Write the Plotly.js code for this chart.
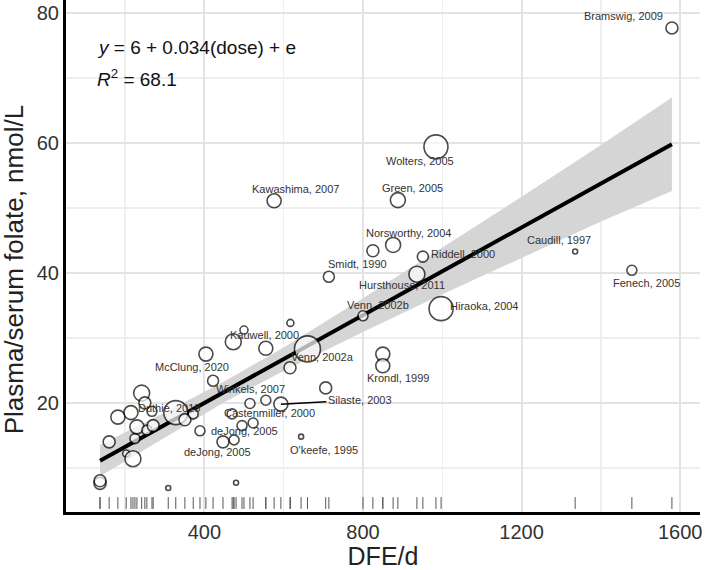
<!DOCTYPE html>
<html>
<head>
<meta charset="utf-8">
<script src="https://cdn.plot.ly/plotly-3.0.1.min.js"></script>
<style>html,body{margin:0;padding:0;background:#fff;}#chart{width:709px;height:570px;}</style>
</head>
<body>
<div id="chart"></div>
<script>
// ---- data ----
var dose = [137,137,160,182,203,215,220,225,230,242,250,255,268,271,309,328,351,372,389,404,422,447,470,473,475,480,495,500,515,523,555,555,576,593,616,617,644,660,706,714,800,825,850,850,876,888,936,951,984,997,1335,1478,1579];
var folate = [7.6,8.0,14.0,17.8,12.2,18.5,11.4,14.5,16.3,21.5,20.0,15.8,18.7,16.5,6.9,18.5,17.4,18.3,15.7,27.5,23.4,14.0,18.3,29.4,14.3,7.7,16.5,31.2,19.9,16.9,28.4,20.4,51.1,19.8,25.4,32.3,14.8,28.3,22.3,39.4,33.4,43.4,27.5,25.7,44.3,51.2,39.8,42.5,59.4,34.5,43.3,40.4,77.7];
var weight = [6,6,6,7,3.5,7,8,5,7,8,6,5,5,6,2.5,12,6,5,5,7,5.5,6,5,8,5,2.5,5,4,5,5,7,5,7,7,6,3.5,2.5,13,6,5.5,5,6,7,7,7.5,7.5,8,5.5,12,12,2.5,5,6];
var study = ["","","","","","","","","","","","","","","","Duthie, 2018","","","","McClung, 2020","Winkels, 2007","deJong, 2005","","Kauwell, 2000","","","deJong, 2005","","Castenmiller, 2000","","","","Kawashima, 2007","Silaste, 2003","","","O'keefe, 1995","Venn, 2002a","","Smidt, 1990","Venn, 2002b","","","Krondl, 1999","Norsworthy, 2004","Green, 2005","Hursthouse, 2011","Riddell, 2000","Wolters, 2005","Hiraoka, 2004","Caudill, 1997","Fenech, 2005","Bramswig, 2009"];
// fitted line and confidence band
var fitDose = [137,1579];
var fitFolate = [11.1,59.8];
var bandDose = [137,300,450,600,800,1000,1200,1400,1579];
var bandUpper = [13.5,18.5,23.3,28.5,36.1,43.9,51.7,59.7,67.0];
var bandLower = [8.7,14.7,20.1,24.9,30.9,36.7,42.3,47.9,52.6];
var xTicks = [400,800,1200,1600];
var yTicks = [20,40,60,80];
var xTitle = "DFE/d";
var yTitle = "Plasma/serum folate, nmol/L";
var eqText = "<i>y</i> = 6 + 0.034(dose) + e";
var r2Text = "<i>R</i><sup>2</sup> = 68.1";

// ---- layout-only placement of labels (pixel shifts: right, up) ----
var labelShift = {
  15:[-7,5], 19:[-14,-13], 20:[37,-8], 21:[-5,-10], 23:[31,7], 26:[2,-5],
  28:[20,-10], 32:[21,12], 36:[23,-13], 37:[15,-8], 39:[29,13], 40:[15,11],
  43:[15,-12], 44:[15,12], 45:[15,12], 46:[-15,-11], 47:[40,3], 48:[-16,-14],
  49:[43,3], 50:[-16,11], 51:[15,-13], 52:[-48,12]
};
var arrowLabels = {33:[79,-4]};

var FONT = "Liberation Sans, Arial, Helvetica, sans-serif";

var traces = [];
traces.push({
  x: bandDose.concat(bandDose.slice().reverse()),
  y: bandUpper.concat(bandLower.slice().reverse()),
  type:'scatter', mode:'lines', fill:'toself', fillcolor:'#d5d5d5',
  line:{width:0, color:'rgba(0,0,0,0)'}, hoverinfo:'skip'
});
traces.push({
  x: fitDose, y: fitFolate, type:'scatter', mode:'lines',
  line:{color:'#000', width:4}, hoverinfo:'skip'
});
traces.push({
  x: dose, y: folate, type:'scatter', mode:'markers',
  marker:{size: weight.map(function(w){return 2*w;}), color:'#fff', line:{color:'#000', width:1.6}},
  hoverinfo:'skip'
});

var annotations = [];
for (var i=0;i<study.length;i++){
  if(!study[i]) continue;
  if(arrowLabels[i]){
    annotations.push({x:dose[i], y:folate[i], xref:'x', yref:'y', text:study[i], showarrow:true,
      arrowhead:0, arrowwidth:1.5, arrowcolor:'#000', standoff:0,
      ax:arrowLabels[i][0], ay:arrowLabels[i][1],
      font:{family:FONT, size:11, color:'#333'}});
  } else {
    var s = labelShift[i] || [0,0];
    annotations.push({x:dose[i], y:folate[i], xref:'x', yref:'y', text:study[i], showarrow:false,
      xshift:s[0], yshift:s[1], xanchor:'center', yanchor:'middle',
      font:{family:FONT, size:11, color:'#333'}});
  }
}
annotations.push({xref:'paper', yref:'paper', x:0.046, y:0.908, xanchor:'left', yanchor:'middle',
  text:eqText, showarrow:false, font:{family:FONT, size:19, color:'#111'}});
annotations.push({xref:'paper', yref:'paper', x:0.046, y:0.848, xanchor:'left', yanchor:'middle',
  text:r2Text, showarrow:false, font:{family:FONT, size:19, color:'#111'}});
// y axis title placed as rotated text (centred like the reference)
annotations.push({xref:'paper', yref:'paper', x:-0.082, y:0.472, xanchor:'center', yanchor:'middle',
  textangle:-90, text:yTitle, showarrow:false, font:{family:FONT, size:26, color:'#222'}});

var shapes = dose.map(function(d){
  return {type:'line', xref:'x', yref:'paper', x0:d, x1:d, y0:0.006, y1:0.029,
    line:{color:'#555', width:1}, layer:'above'};
});

var layout = {
  width:709, height:570,
  margin:{l:66, r:9, t:0, b:58},
  paper_bgcolor:'#fff', plot_bgcolor:'#fff',
  showlegend:false,
  font:{family:FONT, color:'#222'},
  xaxis:{
    range:[51.2,1649.8], tickvals:xTicks, ticktext:xTicks.map(String),
    showgrid:true, gridcolor:'#e3e3e3', gridwidth:2,
    minor:{dtick:200, tick0:0, showgrid:true, gridcolor:'#eeeeee', gridwidth:1.5},
    zeroline:false, showline:true, linecolor:'#000', linewidth:3, ticks:'',
    tickfont:{family:FONT, size:20, color:'#333'},
    title:{text:xTitle, font:{family:FONT, size:25, color:'#222'}, standoff:5}
  },
  yaxis:{
    range:[3.2,82], tickvals:yTicks, ticktext:yTicks.map(String),
    showgrid:true, gridcolor:'#e3e3e3', gridwidth:2,
    minor:{dtick:10, tick0:0, showgrid:true, gridcolor:'#eeeeee', gridwidth:1.5},
    zeroline:false, showline:true, linecolor:'#000', linewidth:3, ticks:'',
    tickfont:{family:FONT, size:20, color:'#333'}
  },
  annotations:annotations,
  shapes:shapes
};
Plotly.newPlot('chart', traces, layout, {displayModeBar:false, staticPlot:true});
</script>
</body>
</html>
